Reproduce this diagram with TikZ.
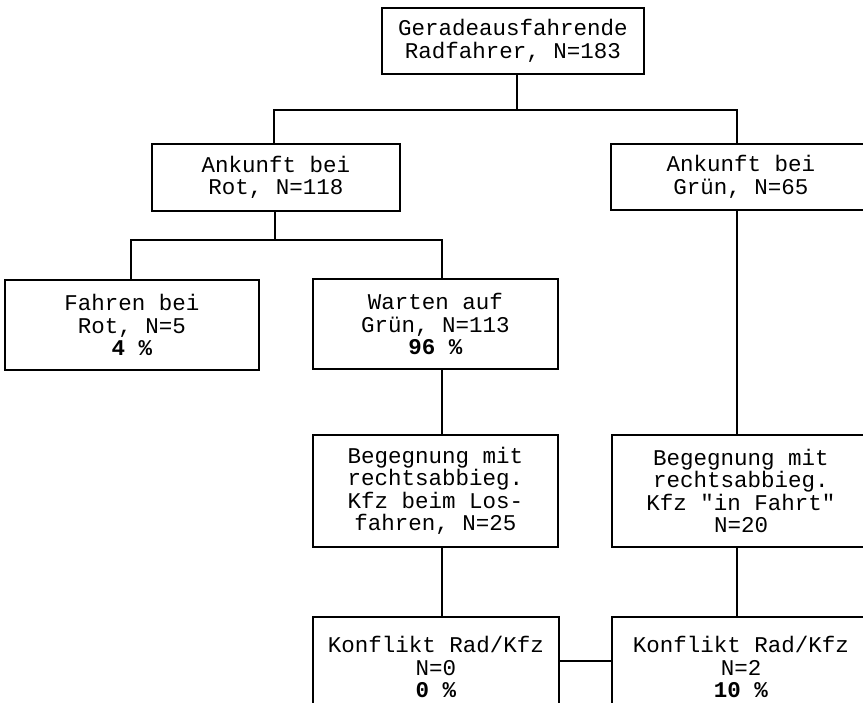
\documentclass[tikz,border=0pt]{standalone}
\usepackage{fontspec}
\newfontfamily\cour{Liberation Mono}
\begin{document}
\begin{tikzpicture}[x=1pt,y=-1pt,
  txt/.style={align=center,inner sep=0pt,font=\cour\fontsize{22.5}{22.5}\selectfont},
  box/.style={txt,draw,line width=1.5pt,rectangle},
  link/.style={line width=1.5pt}]
\clip (0,0) rectangle (863,703);
\fill[white] (0,0) rectangle (863,703);
\node[box,minimum width=262,minimum height=66] (top) at (513,41) {Geradeausfahrende\\Radfahrer, N=183};
\node[box,minimum width=248,minimum height=67] (rot) at (276,177.5) {Ankunft bei\\Rot, N=118};
\node[box,minimum width=260,minimum height=66] (gruen) at (741,177) {Ankunft bei\\Grün, N=65};
\node[box,minimum width=254,minimum height=90] (fahren) at (132,325) {Fahren bei\\Rot, N=5\\\textbf{4 \%}};
\node[box,minimum width=245,minimum height=90] (warten) at (435.5,324) {Warten auf\\Grün, N=113\\\textbf{96 \%}};
\node[box,minimum width=245,minimum height=112] (begL) at (435.5,491) {Begegnung mit\\rechtsabbieg.\\Kfz beim Los-\\fahren, N=25};
\node[box,minimum width=258,minimum height=112] (begR) at (741,491) {Begegnung mit\\rechtsabbieg.\\Kfz "in Fahrt"\\N=20};
\node[box,minimum width=246,minimum height=120] (konL) at (436,677) {};
\node[box,minimum width=258,minimum height=120] (konR) at (741,677) {};
\node[txt] (konLt) at (436,667) {Konflikt Rad/Kfz\\N=0\\\textbf{0 \%}};
\node[txt] (konRt) at (741,667) {Konflikt Rad/Kfz\\N=2\\\textbf{10 \%}};
% junctions
\coordinate (j1) at (517,110);
\coordinate (j1L) at (274,110);
\coordinate (j1R) at (737,110);
\coordinate (j2) at (275,240);
\coordinate (j2L) at (131,240);
\coordinate (j2R) at (442,240);
\draw[link] (j1 |- top.south) -- (j1);
\draw[link] (j1L |- rot.north) -- (j1L) -- (j1R) -- (j1R |- gruen.north);
\draw[link] (j2 |- rot.south) -- (j2);
\draw[link] (j2L |- fahren.north) -- (j2L) -- (j2R) -- (j2R |- warten.north);
\draw[link] (j2R |- warten.south) -- (j2R |- begL.north);
\draw[link] (j2R |- begL.south) -- (j2R |- konL.north);
\draw[link] (j1R |- gruen.south) -- (j1R |- begR.north);
\draw[link] (j1R |- begR.south) -- (j1R |- konR.north);
\draw[link] (konL.east |- 0,661) -- (konR.west |- 0,661);
\end{tikzpicture}
\end{document}
